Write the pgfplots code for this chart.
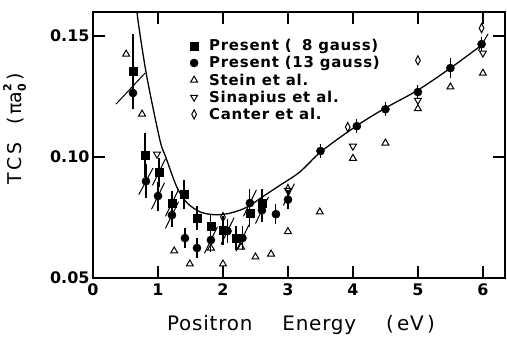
\documentclass[border=0pt]{standalone}
\usepackage{pgfplots}
\pgfplotsset{compat=1.18}
\usepackage{fontspec}
\setmainfont{DejaVu Sans}
\begin{document}
\begin{tikzpicture}
\useasboundingbox (-93bp,-59bp) rectangle (414bp,278bp);
\begin{axis}[
  scale only axis, width=412bp, height=266bp,
  at={(0,0)}, anchor=south west,
  xmin=0, xmax=6.34, ymin=0.05, ymax=0.16,
  xtick={0,1,2,3,4,5,6}, xticklabels={0,1,2,3,4,5,6},
  ytick={0.05,0.10,0.15}, yticklabels={0.05,0.10,0.15},
  tick align=inside, major tick length=12bp,
  axis line style={line width=1.6pt},
  every tick/.style={line width=1.6pt, black},
  xticklabel style={font=\fontsize{16}{18}\selectfont\bfseries, yshift=-2bp},
  yticklabel style={font=\fontsize{16}{18}\selectfont\bfseries},
  unbounded coords=jump,
  xlabel={Positron\hspace{1.5em}Energy\hspace{1.5em}(\,eV\,)},
  xlabel style={font=\fontsize{20}{22}\selectfont\addfontfeatures{LetterSpace=4}, yshift=-13bp, xshift=2bp},
  ylabel={T\hspace{3pt}C\hspace{3pt}S\hspace{0.9em}(\,πa\rlap{\raisebox{-0.45ex}{\fontsize{11}{12}\selectfont\bfseries 0}}\raisebox{0.95ex}{\fontsize{11}{12}\selectfont\bfseries 2}\,)},
  ylabel style={font=\fontsize{19}{22}\selectfont, at={(axis description cs:-0.19,0.56)}, anchor=center},
  legend style={draw=none, fill=none, at={(0.235,0.905)}, anchor=north west,
    font=\fontsize{15}{16}\selectfont\bfseries\addfontfeatures{LetterSpace=5}, row sep=0.3pt, inner sep=0pt,
    /tikz/every odd column/.append style={column sep=9bp}},
  legend cell align=left,
]
% fitted curve
\addplot[line width=1.3pt, smooth, forget plot] coordinates {
(0.655,0.166) (0.70,0.155) (0.83,0.133) (1.03,0.107) (1.12,0.100) (1.29,0.0876)
(1.45,0.081) (1.65,0.0773) (1.85,0.0762) (2.0,0.0763) (2.15,0.0771)
(2.37,0.0793) (2.65,0.0843) (2.88,0.0884) (3.18,0.0938) (3.52,0.1025)
(4.06,0.1130) (4.5,0.1203) (5.0,0.1277) (5.5,0.1368) (5.98,0.1463)};
% tilted lines
\addplot[line width=1pt, forget plot] coordinates {
(0.354,0.1219) (0.80,0.1347) (nan,nan)
(0.705,0.0845) (0.925,0.0955) (nan,nan)
(0.90,0.0784) (1.10,0.0894) (nan,nan)
(0.915,0.0883) (1.115,0.0993) (nan,nan)
(1.115,0.0705) (1.315,0.0815) (nan,nan)
(1.115,0.0755) (1.315,0.0865) (nan,nan)
(1.715,0.0602) (1.915,0.0712) (nan,nan)
(1.97,0.0639) (2.17,0.0749) (nan,nan)
(2.2,0.0610) (2.4,0.0720) (nan,nan)
(2.315,0.0755) (2.515,0.0865) (nan,nan)
(2.5,0.0725) (2.7,0.0835) (nan,nan)
(2.93,0.0800) (3.10,0.0890) (nan,nan)
(5.93,0.1440) (6.08,0.1510)};
% Present 8 gauss
\addplot[only marks, mark=square*, mark size=3.9pt, black,
  error bars/.cd, y dir=both, y explicit, error mark=none,
  error bar style={line width=1.1pt}]
  coordinates {
(0.615,0.1355) +- (0,0.0155)
(0.80,0.1008) +- (0,0.009)
(1.015,0.0938) +- (0,0.006)
(1.215,0.081) +- (0,0.005)
(1.40,0.0847) +- (0,0.006)
(1.60,0.0748) +- (0,0.005)
(1.815,0.0715) +- (0,0.005)
(2.0,0.0698) +- (0,0.006)
(2.2,0.0665) +- (0,0.005)
(2.415,0.0769) +- (0,0.006)
(2.6,0.081) +- (0,0.006)};
\addlegendentry{Present (\hphantom{1}8 gauss)}
% Present 13 gauss
\addplot[only marks, mark=*, mark size=4.1pt, black,
  error bars/.cd, y dir=both, y explicit, error mark=none,
  error bar style={line width=1.1pt}]
  coordinates {
(0.615,0.1265) +- (0,0.006)
(0.815,0.090) +- (0,0.007)
(1.0,0.0839) +- (0,0.006)
(1.215,0.076) +- (0,0.005)
(1.415,0.0665) +- (0,0.004)
(1.6,0.0624) +- (0,0.004)
(1.815,0.0657) +- (0,0.005)
(2.07,0.0694) +- (0,0.005)
(2.3,0.0665) +- (0,0.005)
(2.415,0.081) +- (0,0.006)
(2.6,0.078) +- (0,0.005)
(2.815,0.0764) +- (0,0.004)
(3.0,0.0824) +- (0,0.004)
(3.5,0.1025) +- (0,0.003)
(4.06,0.1128) +- (0,0.003)
(4.5,0.1198) +- (0,0.003)
(5.0,0.1269) +- (0,0.003)
(5.5,0.1368) +- (0,0.004)
(5.98,0.1467) +- (0,0.003)};
\addlegendentry{Present (13 gauss)}
% Stein et al.
\addplot[only marks, mark=triangle, mark size=4pt, black, mark options={line width=1pt, fill=white}]
  coordinates {
(0.51,0.1426) (0.755,0.1178) (1.25,0.0612) (1.49,0.0558) (1.815,0.0624)
(2.0,0.0558) (2.28,0.0628) (2.5,0.0587) (2.74,0.0599) (3.0,0.0692)
(3.49,0.0773) (4.0,0.0995) (4.5,0.1058) (5.0,0.1200) (5.5,0.129) (6.0,0.1347)};
\addlegendentry{Stein et al.}
% Sinapius et al.
\addplot[only marks, mark=triangle, mark size=4pt, black, mark options={rotate=180, line width=1pt, fill=white}]
  coordinates {
(0.985,0.1012) (3.0,0.0862) (4.0,0.1045) (5.0,0.1235) (6.0,0.1430)};
\addlegendentry{Sinapius et al.}
% Canter et al.
\addplot[only marks, mark=diamond, mark size=4.2pt, black, mark options={xscale=0.75, yscale=1.1, line width=1pt, fill=white}]
  coordinates {
(2.0,0.0752) (3.0,0.0868) (3.92,0.1124) (5.0,0.1400) (5.98,0.1533)};
\addlegendentry{Canter et al.}
\end{axis}
\end{tikzpicture}
\end{document}
